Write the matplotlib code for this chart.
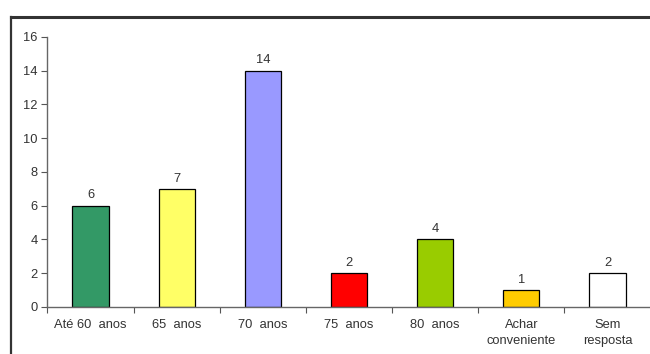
import matplotlib.pyplot as plt
from matplotlib.lines import Line2D

plt.rcParams['font.family'] = ['Liberation Sans', 'DejaVu Sans']
plt.rcParams['font.size'] = 9.3

categorias = ['Até 60  anos', '65  anos', '70  anos', '75  anos', '80  anos',
              'Achar\nconveniente', 'Sem\nresposta']
valores = [6, 7, 14, 2, 4, 1, 2]
cores = ['#339966', '#FFFF66', '#9999FF', '#FF0000', '#99CC00', '#FFCC00', '#FFFFFF']

fig = plt.figure(figsize=(6.5, 3.54), dpi=100)
ax = fig.add_axes([0.073, 0.133, 0.928, 0.763])

x = range(len(categorias))
barras = ax.bar(x, valores, width=0.42, color=cores, edgecolor='black', linewidth=0.9)
for b, v in zip(barras, valores):
    ax.text(b.get_x() + b.get_width() / 2, v + 0.25, str(v),
            ha='center', va='bottom', color='#333333')

ax.set_xlim(-0.5, len(categorias) - 0.5)
ax.set_ylim(0, 16)
ax.set_yticks(range(0, 17, 2))
ax.set_xticks([i + 0.5 for i in range(-1, len(categorias))])
ax.set_xticklabels([])
ax.set_xticks(list(x), categorias, minor=True)
for lbl in ax.get_xticklabels(minor=True):
    lbl.set_linespacing(1.35)
ax.tick_params(axis='x', which='minor', length=0, pad=9, colors='#333333')
ax.tick_params(axis='x', which='major', length=4, color='#555555')
ax.tick_params(axis='y', length=4, color='#555555', labelcolor='#333333', pad=3)

for s in ['top', 'right']:
    ax.spines[s].set_visible(False)
for s in ['left', 'bottom']:
    ax.spines[s].set_color('#666666')
    ax.spines[s].set_linewidth(1.0)

# moldura externa (só topo e lado esquerdo aparecem)
fig.add_artist(Line2D([11 / 650, 11 / 650], [0, 1 - 17 / 354], transform=fig.transFigure,
                      color='#333333', lw=1.6))
fig.add_artist(Line2D([11 / 650, 1], [1 - 17 / 354, 1 - 17 / 354], transform=fig.transFigure,
                      color='#333333', lw=2.2))

fig.savefig('out.png', dpi=100)
